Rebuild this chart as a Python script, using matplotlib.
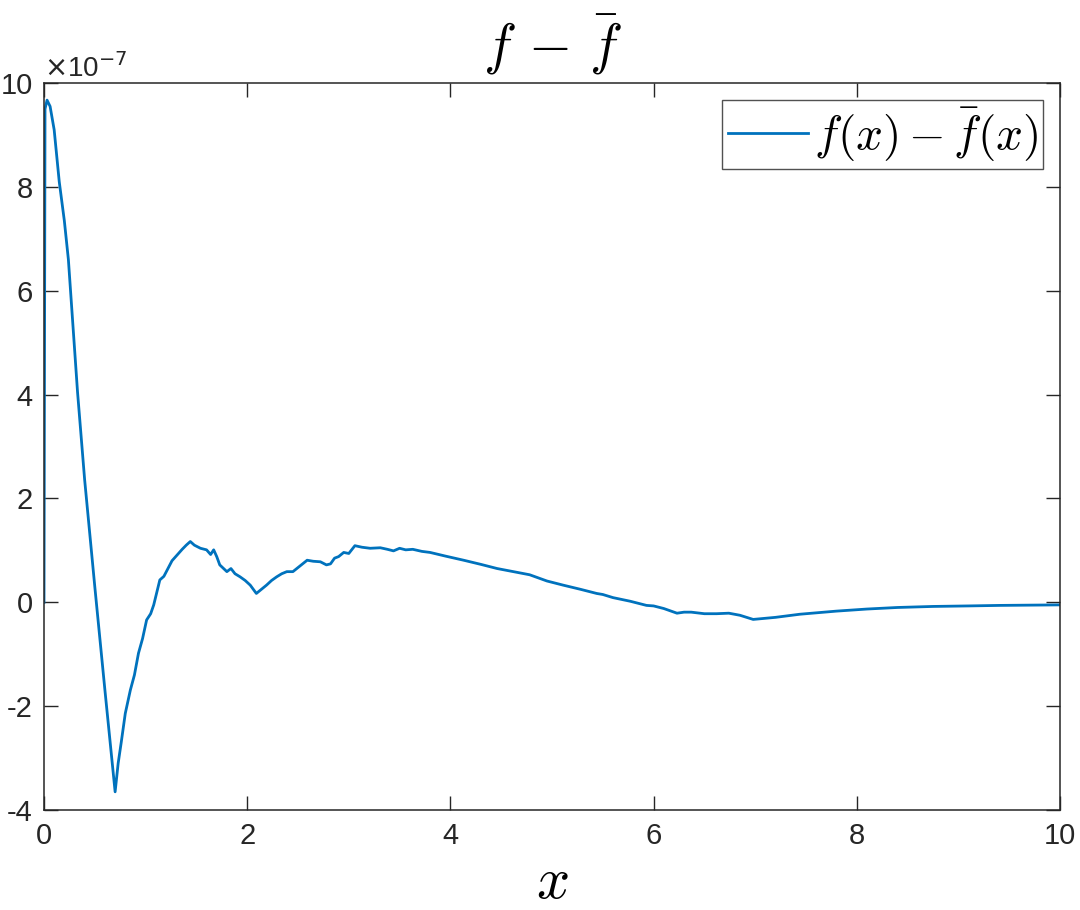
import matplotlib
matplotlib.use("Agg")
import matplotlib.pyplot as plt
import numpy as np

# data (y in units of 1e-7)
x_vals = [0.0, 0.01, 0.03, 0.06, 0.10, 0.15, 0.20, 0.24, 0.33, 0.40, 0.50, 0.60, 0.70,
          0.73, 0.76, 0.80, 0.85, 0.89, 0.93, 0.97, 1.01, 1.05, 1.08, 1.14, 1.18,
          1.22, 1.26, 1.31, 1.36, 1.40, 1.44, 1.48, 1.54, 1.60, 1.64, 1.67, 1.70,
          1.73, 1.80, 1.84, 1.88, 1.93, 1.98, 2.03, 2.09, 2.14, 2.19, 2.24, 2.29,
          2.34, 2.39, 2.45, 2.52, 2.59, 2.65, 2.72, 2.78, 2.82, 2.86, 2.90, 2.95,
          3.00, 3.06, 3.13, 3.21, 3.31, 3.38, 3.44, 3.50, 3.56, 3.63, 3.72, 3.80,
          3.95, 4.13, 4.30, 4.46, 4.62, 4.78, 4.95, 5.11, 5.28, 5.44, 5.50, 5.60,
          5.77, 5.93, 6.00, 6.10, 6.23, 6.30, 6.37, 6.50, 6.62, 6.74, 6.85, 6.98,
          7.20, 7.44, 7.80, 8.10, 8.40, 8.75, 9.10, 9.41, 9.70, 10.0]
y_vals = [0.0, 9.50, 9.67, 9.55, 9.10, 8.10, 7.35, 6.60, 4.05, 2.36, 0.30, -1.70, -3.65,
          -3.10, -2.70, -2.14, -1.69, -1.40, -0.98, -0.70, -0.34, -0.22, -0.05, 0.43, 0.50,
          0.65, 0.80, 0.91, 1.02, 1.10, 1.17, 1.10, 1.04, 1.01, 0.92, 1.01, 0.88,
          0.72, 0.59, 0.65, 0.55, 0.49, 0.42, 0.33, 0.17, 0.25, 0.33, 0.42, 0.49,
          0.55, 0.59, 0.59, 0.70, 0.81, 0.79, 0.78, 0.72, 0.74, 0.85, 0.88, 0.96,
          0.94, 1.09, 1.06, 1.04, 1.05, 1.02, 0.99, 1.04, 1.01, 1.02, 0.98, 0.96,
          0.89, 0.81, 0.73, 0.65, 0.59, 0.53, 0.41, 0.33, 0.25, 0.17, 0.15, 0.09,
          0.02, -0.06, -0.07, -0.12, -0.21, -0.19, -0.19, -0.22, -0.22, -0.21, -0.25, -0.33,
          -0.29, -0.23, -0.17, -0.13, -0.10, -0.08, -0.07, -0.06, -0.055, -0.05]
x_ticks = [0, 2, 4, 6, 8, 10]
y_ticks = [-4, -2, 0, 2, 4, 6, 8, 10]

plt.rcParams['font.family'] = ['Liberation Sans', 'DejaVu Sans']
plt.rcParams['mathtext.fontset'] = 'cm'

dark = '#262626'
fig = plt.figure(figsize=(10.8, 9.1), dpi=100)
ax = fig.add_axes([44/1080, 100/910, 1016/1080, 727/910])

ax.plot(x_vals, np.array(y_vals) * 1e-7, color='#0072BD', lw=2.0,
        label=r'$f(x)-\bar{f}(x)$')

ax.set_xlim(0, 10)
ax.set_ylim(-4e-7, 10e-7)
ax.set_xticks(x_ticks)
ax.set_xticklabels([str(t) for t in x_ticks])
ax.set_yticks([t * 1e-7 for t in y_ticks])
ax.set_yticklabels([str(t) for t in y_ticks])
ax.tick_params(direction='in', length=10, width=1, colors=dark, labelsize=21,
               top=True, right=True)
ax.tick_params(axis='x', pad=9)
ax.tick_params(axis='y', pad=8)
for s in ax.spines.values():
    s.set_color(dark)
    s.set_linewidth(1.1)

ax.text(0.0, 1.0, r'$\times$10$^{-7}$', transform=ax.transAxes, fontsize=20,
        color=dark, ha='left', va='bottom',
        math_fontfamily='dejavusans')

ax.set_title(r'$f\,-\,\bar{f}$', fontsize=40, pad=14)
ax.set_xlabel(r'$x$', fontsize=42, labelpad=4)

leg = ax.legend(loc='upper right', fontsize=34, frameon=True, fancybox=False,
                handlelength=1.7, handletextpad=0.12, borderpad=0.12,
                borderaxespad=0.35)
leg.get_frame().set_edgecolor(dark)
leg.get_frame().set_linewidth(1.0)

fig.savefig('out.png', dpi=100)
